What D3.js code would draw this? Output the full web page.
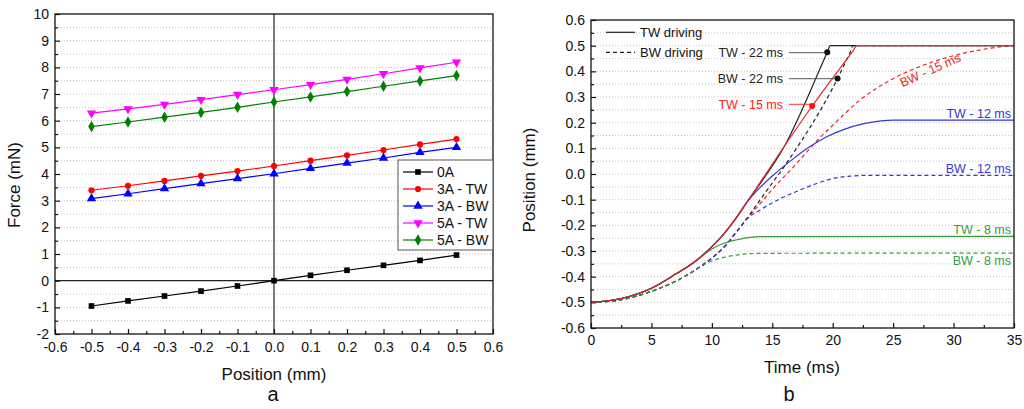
<!DOCTYPE html>
<html>
<head>
<meta charset="utf-8">
<script src="https://cdn.jsdelivr.net/npm/d3@7/dist/d3.min.js"></script>
<style>
body{margin:0;background:#fff}
svg{font-family:Arial,"Liberation Sans",sans-serif}
</style>
</head>
<body>
<svg id="chart" width="1024" height="409"></svg>
<script>
// ---- panel a : force vs position
var positions = [-0.5,-0.4,-0.3,-0.2,-0.1,0,0.1,0.2,0.3,0.4,0.5]
var force0A   = [-0.95,-0.76,-0.575,-0.39,-0.2,0,0.2,0.39,0.575,0.76,0.96]
var force3ATW = [3.39,3.56,3.74,3.93,4.11,4.30,4.50,4.70,4.90,5.11,5.31]
var force3ABW = [3.08,3.26,3.45,3.64,3.83,4.01,4.21,4.41,4.60,4.81,5.00]
var force5ATW = [6.28,6.44,6.61,6.79,6.98,7.16,7.35,7.55,7.76,7.98,8.19]
var force5ABW = [5.78,5.95,6.13,6.31,6.50,6.70,6.89,7.09,7.29,7.49,7.69]
var seriesNamesA = ["0A","3A - TW","3A - BW","5A - TW","5A - BW"]
var xTicksA = [-0.6,-0.5,-0.4,-0.3,-0.2,-0.1,0,0.1,0.2,0.3,0.4,0.5,0.6]
var yTicksA = [-2,-1,0,1,2,3,4,5,6,7,8,9,10]

// ---- panel b : position vs time  ([time ms, position mm])
var tw8  = [[0,-0.5],[2.5,-0.485],[5,-0.445],[7,-0.39],[8.5,-0.345],[9,-0.326],[10,-0.292],[11,-0.27],[12,-0.257],[13,-0.248],[14,-0.244],[35,-0.243]]
var bw8  = [[0,-0.5],[2.5,-0.49],[5,-0.457],[7,-0.418],[8.7,-0.372],[9.5,-0.35],[10.1,-0.337],[11,-0.325],[12,-0.316],[13,-0.311],[14,-0.309],[35,-0.308]]
var tw12 = [[0,-0.5],[2.5,-0.485],[5,-0.445],[7,-0.39],[8.5,-0.345],[9,-0.326],[10,-0.283],[11,-0.233],[12,-0.172],[12.9,-0.11],[14,-0.052],[15,-0.008],[16.7,0.058],[18,0.103],[19.5,0.145],[21,0.175],[22.5,0.195],[24,0.207],[25,0.21],[35,0.21]]
var bw12 = [[0,-0.5],[2.5,-0.49],[5,-0.457],[7,-0.418],[8.7,-0.372],[10,-0.328],[11,-0.285],[12,-0.228],[12.8,-0.18],[14,-0.14],[15.5,-0.1],[17,-0.068],[18.5,-0.04],[20,-0.018],[21.5,-0.008],[23,-0.005],[35,-0.005]]
var tw15 = [[0,-0.5],[2.5,-0.485],[5,-0.445],[7,-0.39],[8.5,-0.345],[9,-0.326],[10,-0.283],[11,-0.233],[12,-0.172],[12.9,-0.11],[16.05,0.112],[18.3,0.265],[21.7,0.481],[22,0.5],[35,0.5]]
var bw15 = [[0,-0.5],[2.5,-0.49],[5,-0.457],[7,-0.418],[8.7,-0.372],[10,-0.328],[11,-0.285],[12,-0.228],[12.8,-0.18],[14,-0.115],[15,-0.06],[16.9,0.035],[18.5,0.12],[20,0.19],[21,0.235],[22.3,0.29],[24,0.345],[26.5,0.405],[28.5,0.44],[30.5,0.467],[32.5,0.486],[34.4,0.498],[35,0.5]]
var tw22 = [[0,-0.5],[2.5,-0.485],[5,-0.445],[7,-0.39],[8.5,-0.345],[9,-0.326],[10,-0.283],[11,-0.233],[12,-0.172],[12.9,-0.11],[16.05,0.112],[19.55,0.474],[19.8,0.5],[35,0.5]]
var bw22 = [[0,-0.5],[2.5,-0.49],[5,-0.457],[7,-0.418],[8.7,-0.372],[10,-0.328],[11,-0.285],[12,-0.228],[12.8,-0.18],[14,-0.1],[15,-0.035],[16,0.03],[17,0.1],[18,0.172],[19,0.25],[20,0.335],[20.4,0.372],[21.4,0.47],[21.7,0.5],[35,0.5]]
var markedPoints = [[19.55,0.474],[20.4,0.372],[18.3,0.265]]
var markedNames  = ["TW - 22 ms","BW - 22 ms","TW - 15 ms"]
var xTicksB = [0,5,10,15,20,25,30,35]
var yTicksB = [-0.6,-0.5,-0.4,-0.3,-0.2,-0.1,0,0.1,0.2,0.3,0.4,0.5,0.6]

var svg = d3.select("#chart")
svg.append("rect").attr("width",1024).attr("height",409).attr("fill","#fff")

function fmt1(d){return d3.format(".1f")(d).replace("\u2212","-")}
function fmt0(d){return String(d)}

// ================= panel a
var xA = d3.scaleLinear().domain([-0.6,0.6]).range([55,493])
var yA = d3.scaleLinear().domain([-2,10]).range([334,14])
var gA = svg.append("g")

// dotted grid every 0.5
gA.selectAll(".gridA").data(d3.range(-1.5,10,0.5)).enter().append("line")
.attr("x1",55).attr("x2",493)
.attr("y1",function(d){return yA(d)}).attr("y2",function(d){return yA(d)})
.attr("stroke","#c4c4c4").attr("stroke-dasharray","1,2").attr("stroke-width",1)

// zero lines
gA.append("line").attr("x1",xA(0)).attr("x2",xA(0)).attr("y1",14).attr("y2",334).attr("stroke","#222").attr("stroke-width",1.2)
gA.append("line").attr("x1",55).attr("x2",493).attr("y1",yA(0)).attr("y2",yA(0)).attr("stroke","#222").attr("stroke-width",1.2)

var axA = gA.append("g").attr("transform","translate(0,334)")
.call(d3.axisBottom(xA).tickValues(xTicksA).tickFormat(fmt1).tickSize(-5).tickPadding(8))
axA.append("g").call(d3.axisBottom(xA).tickValues(d3.range(-0.55,0.6,0.1)).tickFormat("").tickSize(-3))
var ayA = gA.append("g").attr("transform","translate(55,0)")
.call(d3.axisLeft(yA).tickValues(yTicksA).tickFormat(fmt0).tickSize(-5).tickPadding(6))
ayA.append("g").call(d3.axisLeft(yA).tickValues(d3.range(-1.5,10,1)).tickFormat("").tickSize(-3))
gA.selectAll(".domain").remove()
gA.selectAll(".tick line").attr("stroke","#111").attr("stroke-width",1.2)
gA.selectAll(".tick text").attr("font-size","14px").attr("fill","#111").attr("font-family","Arial,'Liberation Sans',sans-serif")
gA.append("rect").attr("x",55).attr("y",14).attr("width",438).attr("height",320)
.attr("fill","none").attr("stroke","#111").attr("stroke-width",1.3)

var colorsA = ["#000000","#ff0000","#0000ff","#ff00ff","#008000"]
var shapesA = [d3.symbolSquare,d3.symbolCircle,d3.symbolTriangle,"down",d3.symbolDiamond]
var dataA = [force0A,force3ATW,force3ABW,force5ATW,force5ABW]
var lineA = d3.line().x(function(d,i){return xA(positions[i])}).y(function(d){return yA(d)})

function marker(g,shape,color,x,y){
    var sym
    if(shape=="down"){
        sym = g.append("path").attr("d",d3.symbol().type(d3.symbolTriangle).size(38)())
        .attr("transform","translate("+x+","+y+") rotate(180)")
    }else{
        var size = shape==d3.symbolSquare?32:(shape==d3.symbolCircle?30:38)
        sym = g.append("path").attr("d",d3.symbol().type(shape).size(size)())
        .attr("transform","translate("+x+","+y+")")
    }
    sym.attr("fill",color)
}

for(var s in dataA){
    gA.append("path").attr("d",lineA(dataA[s])).attr("fill","none")
    .attr("stroke",colorsA[s]).attr("stroke-width",1.2)
    for(var i in dataA[s]){
        marker(gA,shapesA[s],colorsA[s],xA(positions[i]),yA(dataA[s][i]))
    }
}

// legend
var leg = gA.append("g")
leg.append("rect").attr("x",398).attr("y",160).attr("width",95).attr("height",90)
.attr("fill","#fff").attr("stroke","#555").attr("stroke-width",1)
for(var s in seriesNamesA){
    var ly = 172+s*17
    leg.append("line").attr("x1",403).attr("x2",433).attr("y1",ly).attr("y2",ly)
    .attr("stroke",colorsA[s]).attr("stroke-width",1.2)
    marker(leg,shapesA[s],colorsA[s],418,ly)
    leg.append("text").attr("x",437).attr("y",ly+5).text(seriesNamesA[s])
    .attr("font-size","14px").attr("fill","#111")
}

gA.append("text").text("Force (mN)").attr("transform","translate(20,185) rotate(-90)")
.attr("text-anchor","middle").attr("font-size","17px").attr("fill","#111")
gA.append("text").text("Position (mm)").attr("x",274).attr("y",380)
.attr("text-anchor","middle").attr("font-size","17px").attr("fill","#111")
gA.append("text").text("a").attr("x",273).attr("y",401)
.attr("text-anchor","middle").attr("font-size","20px").attr("fill","#111")

// ================= panel b
var xB = d3.scaleLinear().domain([0,35]).range([591,1014])
var yB = d3.scaleLinear().domain([-0.6,0.6]).range([328,20])
var gB = svg.append("g")

gB.selectAll(".gridB").data(d3.range(-0.55,0.6,0.05)).enter().append("line")
.attr("x1",591).attr("x2",1014)
.attr("y1",function(d){return yB(d)}).attr("y2",function(d){return yB(d)})
.attr("stroke","#c4c4c4").attr("stroke-dasharray","1,2").attr("stroke-width",1)

var axB = gB.append("g").attr("transform","translate(0,328)")
.call(d3.axisBottom(xB).tickValues(xTicksB).tickFormat(fmt0).tickSize(-5).tickPadding(7))
axB.append("g").call(d3.axisBottom(xB).tickValues(d3.range(2.5,35,5)).tickFormat("").tickSize(-3))
var ayB = gB.append("g").attr("transform","translate(591,0)")
.call(d3.axisLeft(yB).tickValues(yTicksB).tickFormat(fmt1).tickSize(-5).tickPadding(6))
ayB.append("g").call(d3.axisLeft(yB).tickValues(d3.range(-0.55,0.6,0.1)).tickFormat("").tickSize(-3))
gB.selectAll(".domain").remove()
gB.selectAll(".tick line").attr("stroke","#111").attr("stroke-width",1.2)
gB.selectAll(".tick text").attr("font-size","14px").attr("fill","#111").attr("font-family","Arial,'Liberation Sans',sans-serif")

var lineB = d3.line().x(function(d){return xB(d[0])}).y(function(d){return yB(d[1])}).curve(d3.curveMonotoneX)
var seriesB = [
    {d:bw15,c:"#e8262a",dash:true},
    {d:bw22,c:"#222222",dash:true},
    {d:bw12,c:"#3535d8",dash:true},
    {d:bw8,c:"#3a9a3a",dash:true},
    {d:tw12,c:"#3535d8",dash:false},
    {d:tw8,c:"#3a9a3a",dash:false},
    {d:tw22,c:"#222222",dash:false},
    {d:tw15,c:"#e8262a",dash:false}
]
for(var s in seriesB){
    gB.append("path").attr("d",lineB(seriesB[s].d)).attr("fill","none")
    .attr("stroke",seriesB[s].c).attr("stroke-width",1.2)
    .attr("stroke-dasharray",seriesB[s].dash?"4,3":null)
}

// callouts
var markColors = ["#111","#111","#ff1010"]
var labelY = [52.7,78.7,104.3]
for(var m in markedPoints){
    var px = xB(markedPoints[m][0]), py = yB(markedPoints[m][1])
    gB.append("line").attr("x1",789).attr("x2",px).attr("y1",labelY[m]).attr("y2",labelY[m])
    .attr("stroke",m==2?"#ff3030":"#555").attr("stroke-width",1)
    gB.append("circle").attr("cx",px).attr("cy",py).attr("r",3).attr("fill",markColors[m])
    gB.append("text").attr("x",783).attr("y",labelY[m]+4.5).attr("text-anchor","end")
    .text(markedNames[m]).attr("font-size","12.5px").attr("fill",m==2?"#ff2020":"#222")
}

// end labels
gB.append("text").text("TW - 12 ms").attr("x",1011).attr("y",yB(0.21)-2.5).attr("text-anchor","end").attr("font-size","12.5px").attr("fill","#3535d8")
gB.append("text").text("BW - 12 ms").attr("x",1011).attr("y",yB(-0.005)-2.5).attr("text-anchor","end").attr("font-size","12.5px").attr("fill","#3535d8")
gB.append("text").text("TW - 8 ms").attr("x",1011).attr("y",yB(-0.243)-2.5).attr("text-anchor","end").attr("font-size","12.5px").attr("fill","#3a9a3a")
gB.append("text").text("BW - 8 ms").attr("x",1011).attr("y",yB(-0.308)+11.5).attr("text-anchor","end").attr("font-size","12.5px").attr("fill","#3a9a3a")
gB.append("text").text("BW - 15 ms").attr("transform","translate(932,74) rotate(-24)")
.attr("text-anchor","middle").attr("font-size","12.5px").attr("fill","#e8262a")

// line-style legend
gB.append("line").attr("x1",606).attr("x2",635).attr("y1",32.3).attr("y2",32.3).attr("stroke","#222").attr("stroke-width",1.2)
gB.append("text").text("TW driving").attr("x",640).attr("y",37).attr("font-size","13px").attr("fill","#111")
gB.append("line").attr("x1",606).attr("x2",635).attr("y1",52.3).attr("y2",52.3).attr("stroke","#222").attr("stroke-width",1.2).attr("stroke-dasharray","4,3")
gB.append("text").text("BW driving").attr("x",640).attr("y",57).attr("font-size","13px").attr("fill","#111")

gB.append("rect").attr("x",591).attr("y",20).attr("width",423).attr("height",308)
.attr("fill","none").attr("stroke","#111").attr("stroke-width",1.3)

gB.append("text").text("Position (mm)").attr("transform","translate(535,180) rotate(-90)")
.attr("text-anchor","middle").attr("font-size","17px").attr("fill","#111")
gB.append("text").text("Time (ms)").attr("x",802).attr("y",373)
.attr("text-anchor","middle").attr("font-size","17px").attr("fill","#111")
gB.append("text").text("b").attr("x",789).attr("y",401)
.attr("text-anchor","middle").attr("font-size","20px").attr("fill","#111")
</script>
</body>
</html>
